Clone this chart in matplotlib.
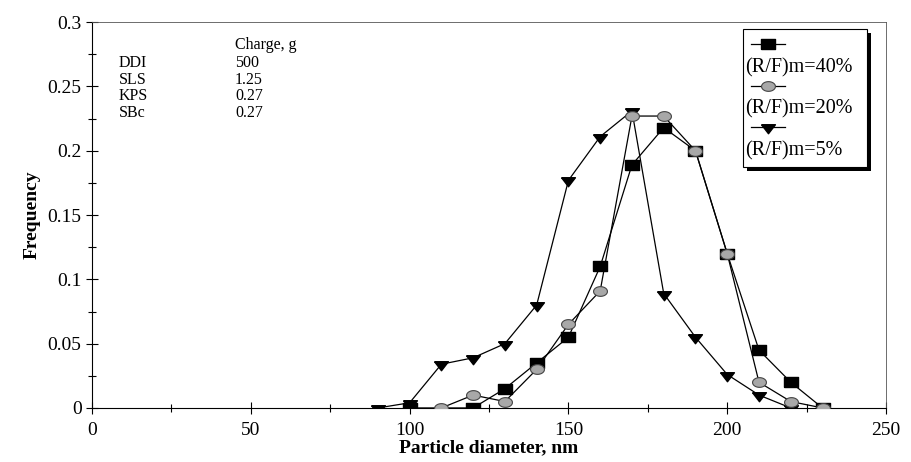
import matplotlib
matplotlib.use('Agg')
import numpy as np
import matplotlib.pyplot as plt
from matplotlib.lines import Line2D
from matplotlib.patches import Rectangle
from matplotlib.ticker import MultipleLocator

plt.rcParams['font.family'] = ['Liberation Serif', 'DejaVu Serif']

# particle size distributions for three (R/F)m ratios
x40 = [100, 120, 130, 140, 150, 160, 170, 180, 190, 200, 210, 220, 230]
f40 = [0, 0, 0.015, 0.035, 0.055, 0.11, 0.189, 0.218, 0.2, 0.12, 0.045, 0.02, 0]

x20 = [110, 120, 130, 140, 150, 160, 170, 180, 190, 200, 210, 220, 230]
f20 = [0, 0.01, 0.005, 0.03, 0.065, 0.091, 0.227, 0.227, 0.2, 0.12, 0.02, 0.005, 0]

x5 = [90, 100, 110, 120, 130, 140, 150, 160, 170, 180, 190, 200, 210, 220]
f5 = [0, 0.004, 0.034, 0.039, 0.05, 0.08, 0.177, 0.211, 0.231, 0.089, 0.055, 0.026, 0.01, 0]

labels = ['(R/F)m=40%', '(R/F)m=20%', '(R/F)m=5%']

recipe_names = ['DDI', 'SLS', 'KPS', 'SBc']
recipe_charge = ['500', '1.25', '0.27', '0.27']

# flattened marker shapes (wider than tall)
rect = [(-1, -0.65), (1, -0.65), (1, 0.65), (-1, 0.65), (-1, -0.65)]
t = np.linspace(0, 2 * np.pi, 40)
oval = list(zip(np.cos(t), 0.7 * np.sin(t)))
tri = [(-1, 0.4), (1, 0.4), (0, -0.9), (-1, 0.4)]

fig = plt.figure(figsize=(9.11, 4.62), dpi=100)
ax = fig.add_axes([0.101, 0.117, 0.8716, 0.835])

l40, = ax.plot(x40, f40, color='black', lw=0.9, marker=rect, ms=10,
               mfc='black', mec='black', zorder=3)
l20, = ax.plot(x20, f20, color='black', lw=0.9, marker=oval, ms=10,
               mfc='#a8a8a8', mec='#444444', mew=0.8, zorder=4)
l5, = ax.plot(x5, f5, color='black', lw=0.9, marker=tri, ms=10,
              mfc='black', mec='black', zorder=2)

ax.set_xlim(0, 250)
ax.set_ylim(0, 0.3)
ax.xaxis.set_major_locator(MultipleLocator(50))
ax.xaxis.set_minor_locator(MultipleLocator(25))
ax.yaxis.set_minor_locator(MultipleLocator(0.025))
ax.set_yticks([0, 0.05, 0.1, 0.15, 0.2, 0.25, 0.3])
ax.set_yticklabels(['0', '0.05', '0.1', '0.15', '0.2', '0.25', '0.3'])
ax.tick_params(which='both', direction='inout', labelsize=14, length=8, width=0.8)
ax.tick_params(which='minor', length=6)
ax.tick_params(axis='x', pad=6)

for side in ['top', 'right']:
    ax.spines[side].set_linewidth(0.6)
    ax.spines[side].set_color('#555555')

ax.set_xlabel('Particle diameter, nm', fontsize=14, fontweight='bold', labelpad=0)
ax.set_ylabel('Frequency', fontsize=14, fontweight='bold', labelpad=5)

# recipe table
ax.text(45, 0.282, 'Charge, g', fontsize=11.5, va='center')
for i, (n, c) in enumerate(zip(recipe_names, recipe_charge)):
    y = 0.2685 - i * 0.0131
    ax.text(8.5, y, n, fontsize=11.5, va='center')
    ax.text(45, y, c, fontsize=11.5, va='center')

# legend box with a solid drop shadow, drawn by hand
bx, by, bw, bh = 0.820, 0.624, 0.156, 0.358
ax.add_patch(Rectangle((bx + 0.005, by - 0.010), bw, bh, transform=ax.transAxes,
                       facecolor='black', edgecolor='none', zorder=5))
ax.add_patch(Rectangle((bx, by), bw, bh, transform=ax.transAxes,
                       facecolor='white', edgecolor='black', lw=0.8, zorder=6))

# legend: marker on one row, label on the row below
blank = Line2D([], [], linestyle='none')
handles = [l40, blank, l20, blank, l5, blank]
names = ['', labels[0], '', labels[1], '', labels[2]]
leg = ax.legend(handles, names, loc='upper left', bbox_to_anchor=(bx, by + bh),
                borderaxespad=0, fontsize=14.5, frameon=False,
                handlelength=1.7, handletextpad=-2.0, labelspacing=0.08,
                borderpad=0.4)
leg.set_zorder(7)

fig.savefig('out.png', dpi=100)
